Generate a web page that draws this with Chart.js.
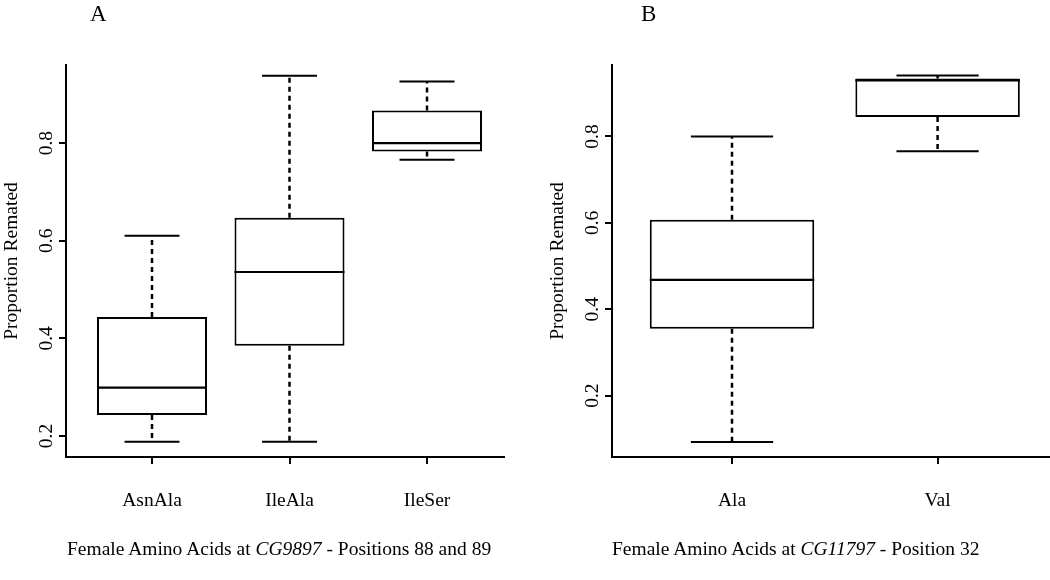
<!DOCTYPE html>
<html><head><meta charset="utf-8">
<script src="https://cdn.jsdelivr.net/npm/chart.js@4.4.0/dist/chart.umd.min.js"></script>
<style>
html,body{margin:0;padding:0;background:#fff;}
#wrap{position:relative;width:1050px;height:580px;overflow:hidden;background:#fff;font-family:"Liberation Serif",serif;color:#000;}
canvas{position:absolute;top:0;}
.panel{position:absolute;font-size:23px;line-height:23px;}
.xt{position:absolute;font-size:19.5px;line-height:20px;white-space:nowrap;}
</style></head><body>
<div id="wrap">
<canvas id="cA" width="525" height="580" style="left:0"></canvas>
<canvas id="cB" width="525" height="580" style="left:525px"></canvas>
<div class="panel" style="left:90px;top:2px">A</div>
<div class="panel" style="left:641px;top:2px">B</div>
<div class="xt" style="left:67px;top:539px">Female Amino Acids at <i>CG9897</i> - Positions 88 and 89</div>
<div class="xt" style="left:612px;top:539px">Female Amino Acids at <i>CG11797</i> - Position 32</div>
</div>
<script>
// Panel A data
const catsA = ['AsnAla', 'IleAla', 'IleSer'];
const minA  = [0.188, 0.188, 0.766];
const q1A   = [0.243, 0.385, 0.783];
const medA  = [0.299, 0.536, 0.800];
const q3A   = [0.444, 0.647, 0.867];
const maxA  = [0.610, 0.938, 0.926];

// Panel B data
const catsB = ['Ala', 'Val'];
const minB  = [0.093, 0.766];
const q1B   = [0.355, 0.845];
const medB  = [0.468, 0.930];
const q3B   = [0.607, 0.934];
const maxB  = [0.800, 0.941];

const yTicks = [0.2, 0.4, 0.6, 0.8];
const yTitle = 'Proportion Remated';

Chart.defaults.font.family = "'Liberation Serif', serif";
Chart.defaults.color = '#000';

const BOX_HALF = 0.4, CAP_HALF = 0.2;
const FS = 19.5;

function buildChart(id, cats, mins, q1s, meds, q3s, maxs, g) {
  const medData = [], whiskData = [], capData = [];
  cats.forEach((c, i) => {
    const x = i + 1;
    medData.push({x: x - BOX_HALF, y: meds[i]}, {x: x + BOX_HALF, y: meds[i]}, {x: x, y: null});
    whiskData.push({x: x, y: q3s[i]}, {x: x, y: maxs[i]}, {x: x, y: null},
                   {x: x, y: q1s[i]}, {x: x, y: mins[i]}, {x: x, y: null});
    capData.push({x: x - CAP_HALF, y: maxs[i]}, {x: x + CAP_HALF, y: maxs[i]}, {x: x, y: null},
                 {x: x - CAP_HALF, y: mins[i]}, {x: x + CAP_HALF, y: mins[i]}, {x: x, y: null});
  });
  const boxData = cats.map((c, i) => ({x: i + 1, y: [q1s[i], q3s[i]]}));
  const lineCommon = {type: 'line', borderColor: '#000', borderWidth: 2, pointRadius: 0,
                      pointHoverRadius: 0, fill: false, tension: 0, spanGaps: false, borderCapStyle: 'butt'};
  return new Chart(document.getElementById(id), {
    type: 'bar',
    data: {
      datasets: [
        Object.assign({}, lineCommon, {label: 'median', data: medData, borderWidth: 2.2}),
        {type: 'bar', label: 'box', data: boxData, backgroundColor: '#fff', borderColor: '#000',
         borderWidth: 2, borderSkipped: false, barPercentage: 0.8, categoryPercentage: 1.0},
        Object.assign({}, lineCommon, {label: 'caps', data: capData}),
        Object.assign({}, lineCommon, {label: 'whiskers', data: whiskData, borderDash: [5, 4], borderWidth: 2.5})
      ]
    },
    options: {
      responsive: false, animation: false, devicePixelRatio: 1,
      layout: {padding: {left: g.padL, right: g.padR, top: 65, bottom: 0}},
      plugins: {legend: {display: false}, tooltip: {enabled: false}, title: {display: false}},
      scales: {
        x: {
          type: 'linear', min: g.xMin, max: g.xMax, offset: false,
          afterBuildTicks: s => { s.ticks = cats.map((c, i) => ({value: i + 1})); },
          afterFit: s => { s.height = 123; },
          border: {display: true, color: '#000', width: 2},
          grid: {display: true, offset: false, drawOnChartArea: false, drawTicks: true, tickLength: 7, color: '#000', lineWidth: 2},
          ticks: {autoSkip: false, minRotation: 0, maxRotation: 0, padding: 25, color: '#000',
                  font: {size: FS}, callback: v => cats[Math.round(v) - 1] ?? ''}
        },
        y: {
          type: 'linear', min: g.yMin, max: g.yMax,
          afterBuildTicks: s => { s.ticks = yTicks.map(v => ({value: v})); },
          afterFit: s => { s.width = 66; },
          border: {display: true, color: '#000', width: 2},
          grid: {display: true, drawOnChartArea: false, drawTicks: true, tickLength: 7, color: '#000', lineWidth: 2},
          ticks: {color: '#000', font: {size: FS}, padding: 0, minRotation: 90, maxRotation: 90,
                  crossAlign: 'center', callback: v => Number(v).toFixed(1)},
          title: {display: true, text: yTitle, color: '#000', font: {size: FS}, padding: {top: 0, bottom: 0}}
        }
      }
    }
  });
}

buildChart('cA', catsA, minA, q1A, medA, q3A, maxA,
  {padL: 0, padR: 21, xMin: 0.3745, xMax: 3.56, yMin: 0.157, yMax: 0.960});
buildChart('cB', catsB, minB, q1B, medB, q3B, maxB,
  {padL: 21, padR: 0, xMin: 0.4163, xMax: 2.5467, yMin: 0.058, yMax: 0.9654});
</script>
</body></html>
